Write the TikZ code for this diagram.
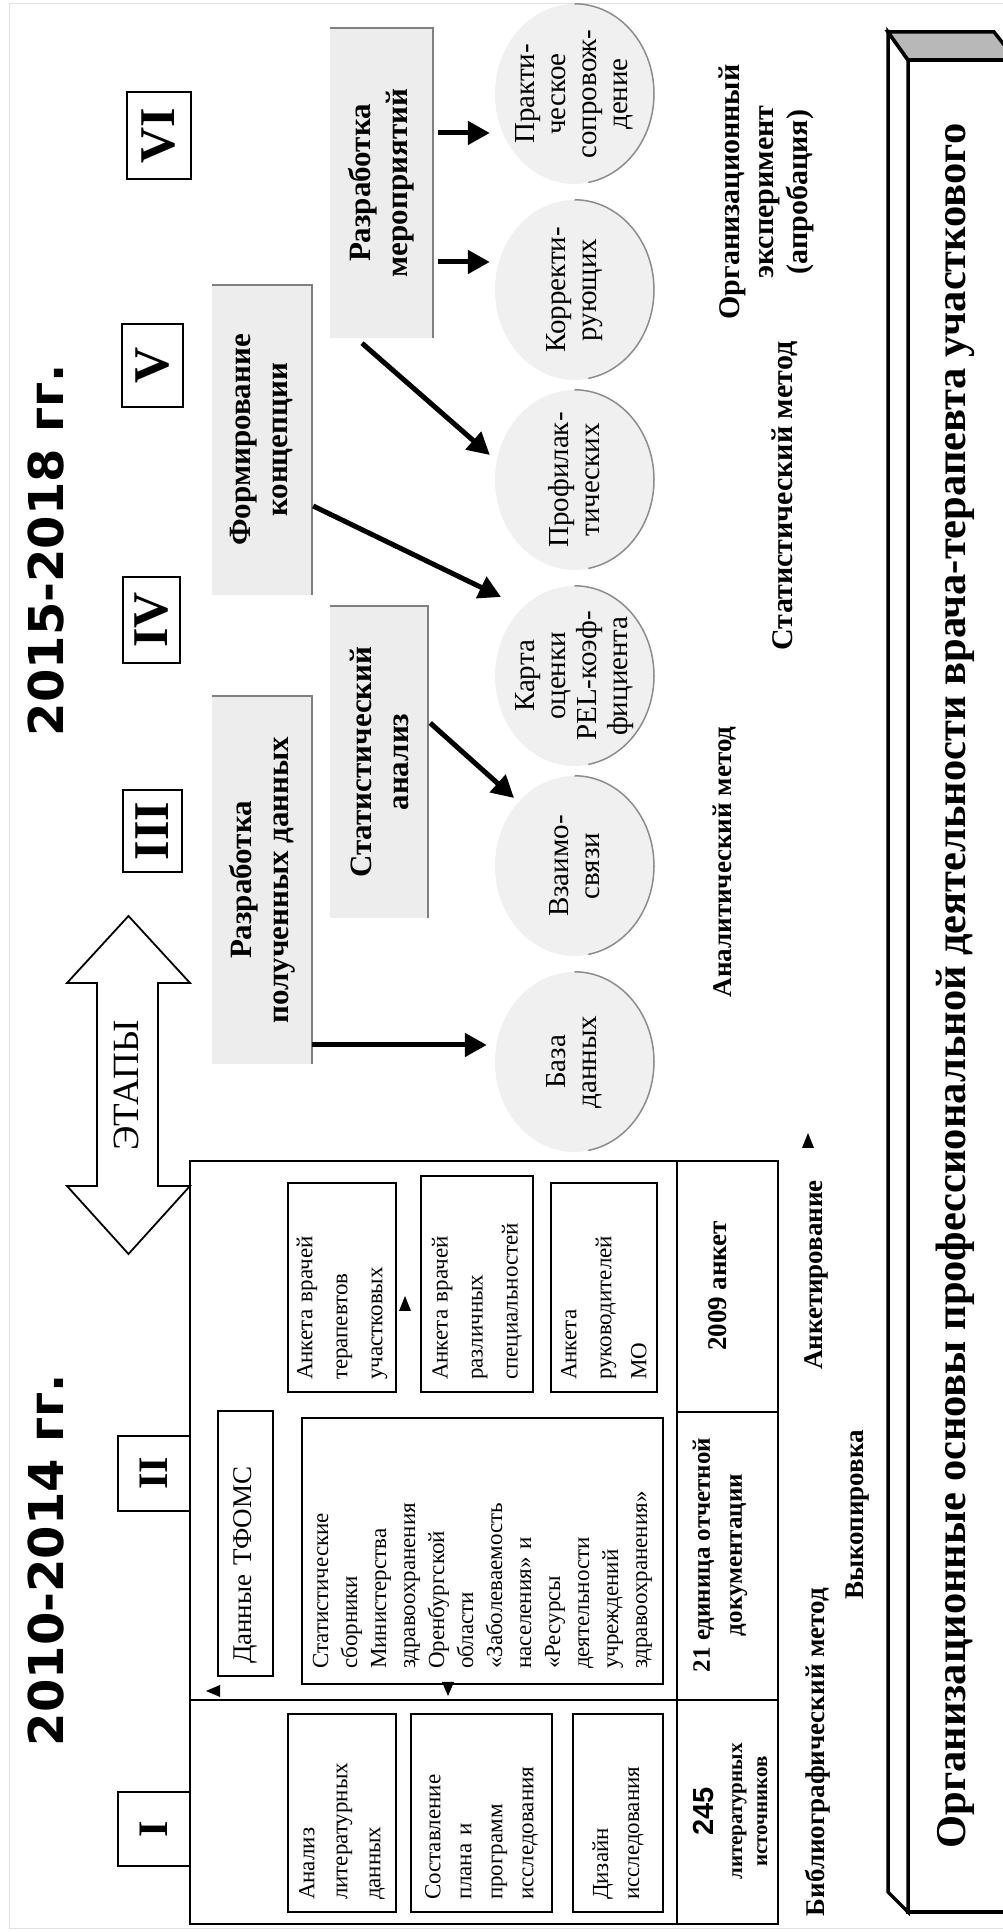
\documentclass[tikz,border=0pt]{standalone}
\usepackage{fontspec}
\setmainfont{Liberation Serif}
\newfontfamily\yearfont{DejaVu Sans}
\newfontfamily\countfont{Liberation Sans}
\usetikzlibrary{shapes.geometric,arrows.meta,calc}
\newcommand{\fsz}[2]{\fontsize{#1}{#2}\selectfont}

\begin{document}
\begin{tikzpicture}[x=1pt, y=1pt,
	stagebox/.style={draw, line width=1.8pt, fill=white, inner sep=0pt, font=\bfseries\fsz{50}{50}},
	greybox/.style={fill=black!7, align=center, inner sep=0pt, font=\bfseries\fsz{31}{37}},
	shadowline/.style={black!50, line width=2.4pt},
	phase/.style={ellipse, fill=black!6, minimum width=180pt, minimum height=159pt, inner sep=-14pt, align=center, font=\fsz{29}{31}},
	phaseedge/.style={black!45, line width=1.5pt},
	cell/.style={draw, line width=1.6pt, align=left, inner xsep=12pt, inner ysep=0pt, font=\fsz{23}{33}},
	rule/.style={line width=1.8pt},
	sumtext/.style={align=center, inner sep=0pt, font=\bfseries\fsz{25}{32}},
	method/.style={align=center, inner sep=0pt, font=\bfseries\fsz{27}{33}},
	flow/.style={line width=5pt, -{Triangle[length=22pt, width=23pt]}},
	tick/.style={fill=black},
	]
	\useasboundingbox (0,0) rectangle (1003,1932);
	\clip (0,0) rectangle (1003,1932);
	\begin{scope}[rotate=90, transform shape]
		\draw[black!12, line width=1pt] (3,-9) rectangle (1928,-1012);
		% years
		\node[font=\yearfont\bfseries\fsz{48}{48}] (years1) at (372,-46) {2010-2014 гг.};
		\node[font=\yearfont\bfseries\fsz{48}{48}] (years2) at (1382,-46) {2015-2018 гг.};
		% stages arrow
		\draw[line width=1.8pt, fill=white] (678,-128.5) -- (746,-67) -- (746,-97) -- (949,-97) -- (949,-67) -- (1016,-128.5) -- (949,-190) -- (949,-158) -- (746,-158) -- (746,-190) -- cycle;
		\node[font=\fsz{37}{37}] (stages) at (846.5,-126) {ЭТАПЫ};
		% table of stages I and II
		\node[draw, line width=1.8pt, minimum width=763pt, minimum height=588pt, inner sep=0pt] (grid) at (389.5,-484) {};
		\draw[rule] ($(grid.north west)+(225,0)$) -- ($(grid.south west)+(225,0)$);
		\draw[rule] ($(grid.south west)+(0,102)$) -- ($(grid.south east)+(0,102)$);
		\draw[rule] ($(grid.south west)+(513,0)$) -- ($(grid.south west)+(513,102)$);
		\node[cell, text width=241pt, minimum height=55pt, font=\fsz{27}{30}] (tfoms) at (388.5,-245.5) {Данные ТФОМС};
		\node[cell, text width=236pt, minimum height=361pt, inner xsep=15pt, font=\fsz{23}{29}] (stats) at (381,-482.5) {Статистические\\сборники\\Министерства\\здравоохранения\\Оренбургской\\области\\«Заболеваемость\\населения» и\\«Ресурсы\\деятельности\\учреждений\\здравоохранения»};
		\node[cell, text width=185pt, minimum height=108pt, font=\fsz{23}{35}] (ank1) at (644.5,-342) {Анкета врачей\\терапевтов\\участковых};
		\node[cell, text width=192pt, minimum height=112pt, font=\fsz{23}{35}] (ank2) at (648,-477) {Анкета врачей\\различных\\специальностей};
		\node[cell, text width=185pt, minimum height=106pt, font=\fsz{23}{35}] (ank3) at (644.5,-604) {Анкета\\руководителей\\МО};
		\node[cell, text width=174pt, minimum height=108pt] (lit) at (119,-342) {Анализ\\литературных\\данных};
		\node[cell, text width=174pt, minimum height=141pt, font=\fsz{23}{31}] (plan) at (119,-481.5) {Составление\\плана и\\программ\\исследования};
		\node[cell, text width=174pt, minimum height=90pt, font=\fsz{23}{31}] (design) at (119,-618) {Дизайн\\исследования};
		\node[sumtext, font=\bfseries\fsz{27}{32}] (sum2009) at (646,-718) {2009 анкет};
		\node[sumtext] (sum21) at (377,-720) {21 единица отчетной\\документации};
		\node[sumtext, font=\bfseries\fsz{21}{25}] (sum245) at (120.5,-730) {{\countfont\fsz{29}{30}245}\\[4pt]литературных\\источников};
		\fill[tick] (636,-405) -- (621,-399) -- (621,-411) -- cycle;
		\fill[tick] (799,-808) -- (784,-802) -- (784,-814) -- cycle;
		\fill[tick] (236,-448) -- (250,-442) -- (250,-454) -- cycle;
		\fill[tick] (241,-206) -- (235,-220) -- (247,-220) -- cycle;
		% stage labels
		\node[stagebox, minimum width=74pt, minimum height=72pt, font=\bfseries\fsz{42}{42}] (st1) at (103,-154) {I};
		\node[stagebox, minimum width=75pt, minimum height=72pt, font=\bfseries\fsz{42}{42}] (st2) at (458.5,-154) {II};
		\node[stagebox, minimum width=82pt, minimum height=59pt] (st3) at (1101,-152.5) {III};
		\node[stagebox, minimum width=86pt, minimum height=57pt] (st4) at (1312,-151.5) {IV};
		\node[stagebox, minimum width=83pt, minimum height=61pt] (st5) at (1566.5,-152.5) {V};
		\node[stagebox, minimum width=87pt, minimum height=64pt] (st6) at (1796.5,-159) {VI};
		% tasks
		\node[greybox, minimum width=368pt, minimum height=100pt] (devdata) at (1052,-262) {Разработка\\полученных данных};
		\node[greybox, minimum width=312pt, minimum height=98pt] (statan) at (1170,-379) {Статистический\\анализ};
		\node[greybox, minimum width=310pt, minimum height=100pt] (concept) at (1492,-262) {Формирование\\концепции};
		\node[greybox, minimum width=310pt, minimum height=103pt] (measures) at (1749,-381.5) {Разработка\\мероприятий};
		\foreach \b in {devdata, statan, concept, measures}
			\draw[shadowline] (\b.north east) -- (\b.south east) -- (\b.south west);
		% results
		\node[phase] (base) at (870,-574.5) {База\\данных};
		\node[phase] (links) at (1066,-574.5) {Взаимо-\\связи};
		\node[phase] (card) at (1256,-574.5) {Карта\\оценки\\PEL-коэф-\\фициента};
		\node[phase] (prev) at (1452,-574.5) {Профилак-\\тических};
		\node[phase] (corr) at (1642,-574.5) {Корректи-\\рующих};
		\node[phase] (pract) at (1838,-574.5) {Практи-\\ческое\\сопровож-\\дение};
		\foreach \e in {base, links, card, prev, corr, pract}
			\draw[phaseedge] (\e.east) arc[start angle=0, end angle=-170, x radius=90pt, y radius=79.5pt];
		\draw[flow] ($(devdata.south)+(-165,0)$) -- ($(base.north)+(17,8)$);
		\draw[flow] ($(statan.south)+(39,-2)$) -- ($(links)+(68,60.5)$);
		\draw[flow] ($(concept.south)+(-66,-1)$) -- ($(card)+(79,73.5)$);
		\draw[flow] ($(measures.west)+(-5,19.5)$) -- ($(prev.north)+(25,5)$);
		\draw[flow] ($(measures.south)+(-79,-5)$) -- ($(corr.north)+(28,5)$);
		\draw[flow] ($(measures.south)+(50,-5)$) -- ($(pract.north)+(-39,5)$);
		% methods
		\node[method] (biblio) at (180,-818) {Библиографический метод};
		\node[method] (copying) at (417,-858) {Выкопировка};
		\node[method] (survey) at (657,-816) {Анкетирование};
		\node[method] (analytic) at (1070,-725) {Аналитический метод};
		\node[method, font=\bfseries\fsz{30}{34}] (statmeth) at (1436,-785) {Статистический метод};
		\node[method, font=\bfseries\fsz{30}{34}] (orgexp) at (1740,-766) {Организационный\\эксперимент\\(апробация)};
		% base bar
		\draw[line width=3.5pt] (20,-1016) -- (20,-908) -- (1872,-908) -- (1872,-1016);
		\draw[line width=3.5pt, fill=white] (20,-908) -- (40,-888) -- (1900,-888) -- (1872,-908) -- cycle;
		\filldraw[fill=black!28, line width=3.5pt] (1872,-908) -- (1900,-888) -- (1900,-994) -- (1872,-1016) -- cycle;
		\node[font=\bfseries\fsz{42.5}{42.5}] (title) at (946,-955) {Организационные основы профессиональной деятельности врача-терапевта участкового};
	\end{scope}
\end{tikzpicture}
\end{document}
